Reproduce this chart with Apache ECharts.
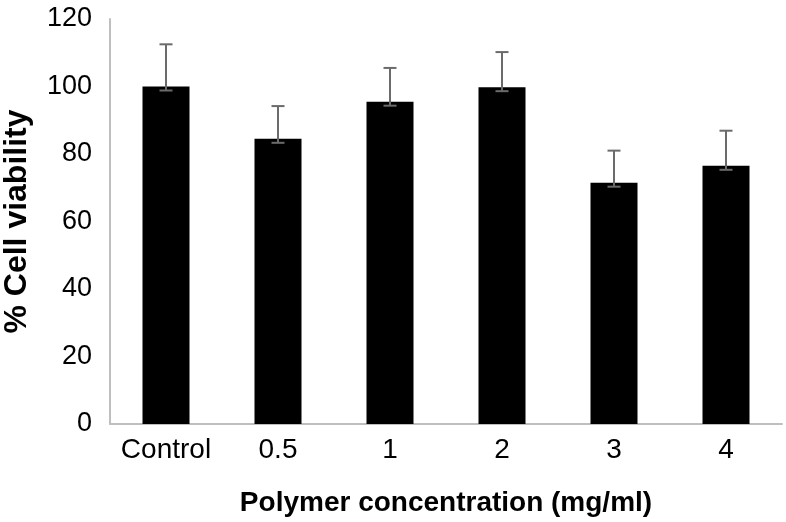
<!DOCTYPE html>
<html>
<head>
<meta charset="utf-8">
<script src="https://cdn.jsdelivr.net/npm/echarts@6/dist/echarts.min.js"></script>
<style>
	html, body { margin: 0; padding: 0; background: #fff; }
	#main { width: 786px; height: 522px; }
</style>
</head>
<body>
<div id="main"></div>
<script>
var categories = ['Control', '0.5', '1', '2', '3', '4'];
var viability = [100, 84.5, 95.5, 99.8, 71.5, 76.5];// 平均值
var errUpper = [12.5, 9.7, 10, 10.4, 9.5, 10.4];// 误差（上）
var yTicks = [0, 20, 40, 60, 80, 100, 120];

var chart = {
	init : function() {
		var myChart = echarts.init(document.getElementById('main'));
		var errData = [];
		for (var i = 0; i < categories.length; i++) {
			errData.push([i, viability[i], viability[i] + errUpper[i]]);
		}
		var option = {
			animation : false,
			grid : {
				left : 110,
				right : 4,
				top : 19,
				bottom : 98,
				outerBoundsMode : 'none',
				containLabel : false
			},
			xAxis : {
				type : 'category',
				data : categories,
				name : 'Polymer concentration (mg/ml)',
				nameLocation : 'middle',
				nameGap : 65,
				nameTextStyle : {
					fontFamily : 'Liberation Sans',
					fontWeight : 'bold',
					fontSize : 28,
					color : '#000'
				},
				axisLine : { lineStyle : { color : '#bfbfbf', width : 2 } },
				axisTick : { show : false },
				axisLabel : {
					interval : 0,
					margin : 12,
					fontFamily : 'Liberation Sans',
					fontSize : 28,
					color : '#000'
				}
			},
			yAxis : {
				type : 'value',
				min : yTicks[0],
				max : yTicks[yTicks.length - 1],
				interval : 20,
				name : '% Cell viability',
				nameLocation : 'middle',
				nameGap : 77,
				nameTextStyle : {
					fontFamily : 'Liberation Sans',
					fontWeight : 'bold',
					fontSize : 32,
					color : '#000'
				},
				axisLine : { show : true, lineStyle : { color : '#bfbfbf', width : 2 } },
				axisTick : { show : false },
				splitLine : { show : false },
				axisLabel : {
					margin : 18,
					fontFamily : 'Liberation Sans',
					fontSize : 27,
					color : '#000'
				}
			},
			series : [ {
				type : 'bar',
				data : viability,
				barWidth : 47,
				itemStyle : { color : '#000' }
			}, {
				type : 'custom',
				data : errData,
				z : 5,
				renderItem : function(params, api) {
					var base = api.coord([api.value(0), api.value(1)]);
					var top = api.coord([api.value(0), api.value(2)]);
					var x = base[0];
					var low = base[1] + 4;
					var style = { stroke : '#6b6b6b', lineWidth : 2 };
					return {
						type : 'group',
						children : [ {
							type : 'line',
							shape : { x1 : x, y1 : top[1], x2 : x, y2 : low },
							style : style
						}, {
							type : 'line',
							shape : { x1 : x - 6.5, y1 : top[1], x2 : x + 6.5, y2 : top[1] },
							style : style
						}, {
							type : 'line',
							shape : { x1 : x - 6.5, y1 : low, x2 : x + 6.5, y2 : low },
							style : style
						} ]
					};
				}
			} ]
		};
		myChart.setOption(option);
	}
};
chart.init();
</script>
</body>
</html>
